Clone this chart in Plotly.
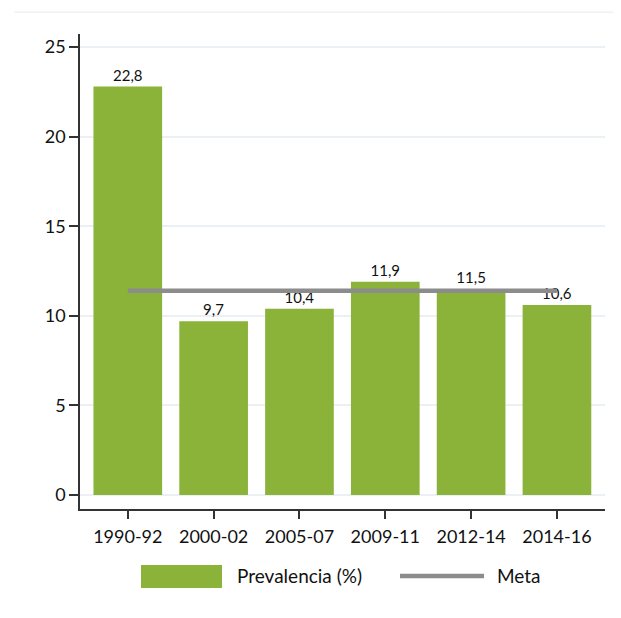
import plotly.graph_objects as go

categories = ["1990-92", "2000-02", "2005-07", "2009-11", "2012-14", "2014-16"]
prevalencia = [22.8, 9.7, 10.4, 11.9, 11.5, 10.6]
meta = [11.4, 11.4, 11.4, 11.4, 11.4, 11.4]
y_ticks = [0, 5, 10, 15, 20, 25]
legend_names = ["Prevalencia (%)", "Meta"]

GREEN = "#8bb33a"
GRAY = "#8c8c8c"
FONT = "Lato"

fig = go.Figure()
fig.add_trace(go.Bar(
    x=categories, y=prevalencia, name=legend_names[0],
    marker=dict(color=GREEN, line=dict(width=0)),
    text=[f"{v:.1f}".replace(".", ",") for v in prevalencia],
    textposition="outside", cliponaxis=False,
    textfont=dict(family=FONT, size=15, color="#111111"),
    showlegend=False,
))
fig.add_trace(go.Scatter(
    x=categories, y=meta, name=legend_names[1], mode="lines",
    line=dict(color=GRAY, width=4.5), showlegend=False,
))

# legend drawn as decorations below the plot (paper coordinates)
shapes = [
    dict(type="line", xref="paper", yref="paper", x0=-0.125, x1=1.04,
         y0=1.046, y1=1.046, line=dict(color="#eef2f1", width=1.5)),
    dict(type="rect", xref="paper", yref="paper", x0=0.1162, x1=0.2705,
         y0=-0.1663, y1=-0.1179, fillcolor=GREEN, line=dict(width=0)),
    dict(type="line", xref="paper", yref="paper", x0=0.6095, x1=0.7695,
         y0=-0.141, y1=-0.141, line=dict(color=GRAY, width=4.5)),
]
annotations = [
    dict(text=legend_names[0], xref="paper", yref="paper", x=0.2952, y=-0.141,
         xanchor="left", yanchor="middle", showarrow=False, font=dict(size=19)),
    dict(text=legend_names[1], xref="paper", yref="paper", x=0.7905, y=-0.141,
         xanchor="left", yanchor="middle", showarrow=False, font=dict(size=19)),
]

fig.update_layout(
    width=621, height=618,
    margin=dict(l=72, r=24, t=26, b=117),
    paper_bgcolor="white", plot_bgcolor="white",
    bargap=0.2,
    separators=",.",
    font=dict(family=FONT, size=18, color="#111111"),
    showlegend=False,
    shapes=shapes,
    annotations=annotations,
)
fig.update_xaxes(
    type="category", range=[-0.557, 5.56],
    showline=True, linecolor="#333333", linewidth=1.5,
    ticks="outside", ticklen=8, tickcolor="#333333", tickwidth=1.5,
    ticklabelstandoff=3,
    showgrid=False, zeroline=False,
)
fig.update_yaxes(
    range=[-0.78, 25.73], tickvals=y_ticks,
    showline=True, linecolor="#333333", linewidth=1.5,
    ticks="outside", ticklen=9, tickcolor="#333333", tickwidth=1.5,
    showgrid=True, gridcolor="#eaf0f4", gridwidth=2, zeroline=False,
)

fig.write_html("out.html")
